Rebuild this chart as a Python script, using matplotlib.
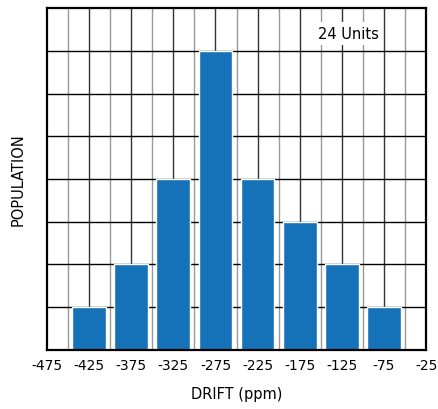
import matplotlib.pyplot as plt
import numpy as np

# drift bins (ppm) and population counts
drift = [-425, -375, -325, -275, -225, -175, -125, -75]
population = [1, 2, 4, 7, 4, 3, 2, 1]
xticks = [-475, -425, -375, -325, -275, -225, -175, -125, -75, -25]

plt.rcParams['font.family'] = ['DejaVu Sans']

fig = plt.figure(figsize=(4.38, 4.10), dpi=100)
ax = fig.add_axes([0.107, 0.144, 0.866, 0.834])

# grid lines: black on labeled positions, gray in between
for x in np.arange(-450, -25, 25):
    if x in xticks:
        ax.axvline(x, color='#333333', lw=1.0, zorder=1)
    else:
        ax.axvline(x, color='#999999', lw=1.0, zorder=1)
for y in range(1, 8):
    ax.axhline(y, color='black', lw=1.0, zorder=1)

ax.bar(drift, population, width=40, color='#1672B8', edgecolor='white',
       linewidth=1.0, zorder=2)

ax.set_xlim(-475, -25)
ax.set_ylim(0, 8)
ax.set_xticks(xticks)
ax.set_xticklabels([str(t) for t in xticks], fontsize=10)
ax.set_yticks([])
ax.tick_params(axis='x', length=0, pad=6)
for s in ax.spines.values():
    s.set_linewidth(1.6)
    s.set_color('black')
    s.set_zorder(3)

ax.set_xlabel('DRIFT (ppm)', fontsize=10.5, labelpad=10)
ax.set_ylabel('POPULATION', fontsize=10.5, labelpad=15)

ax.text(-117, 7.4, '24 Units', fontsize=10.5, ha='center', va='center', zorder=4,
        bbox=dict(facecolor='white', edgecolor='none', pad=3))

fig.savefig('out.png', dpi=100)
